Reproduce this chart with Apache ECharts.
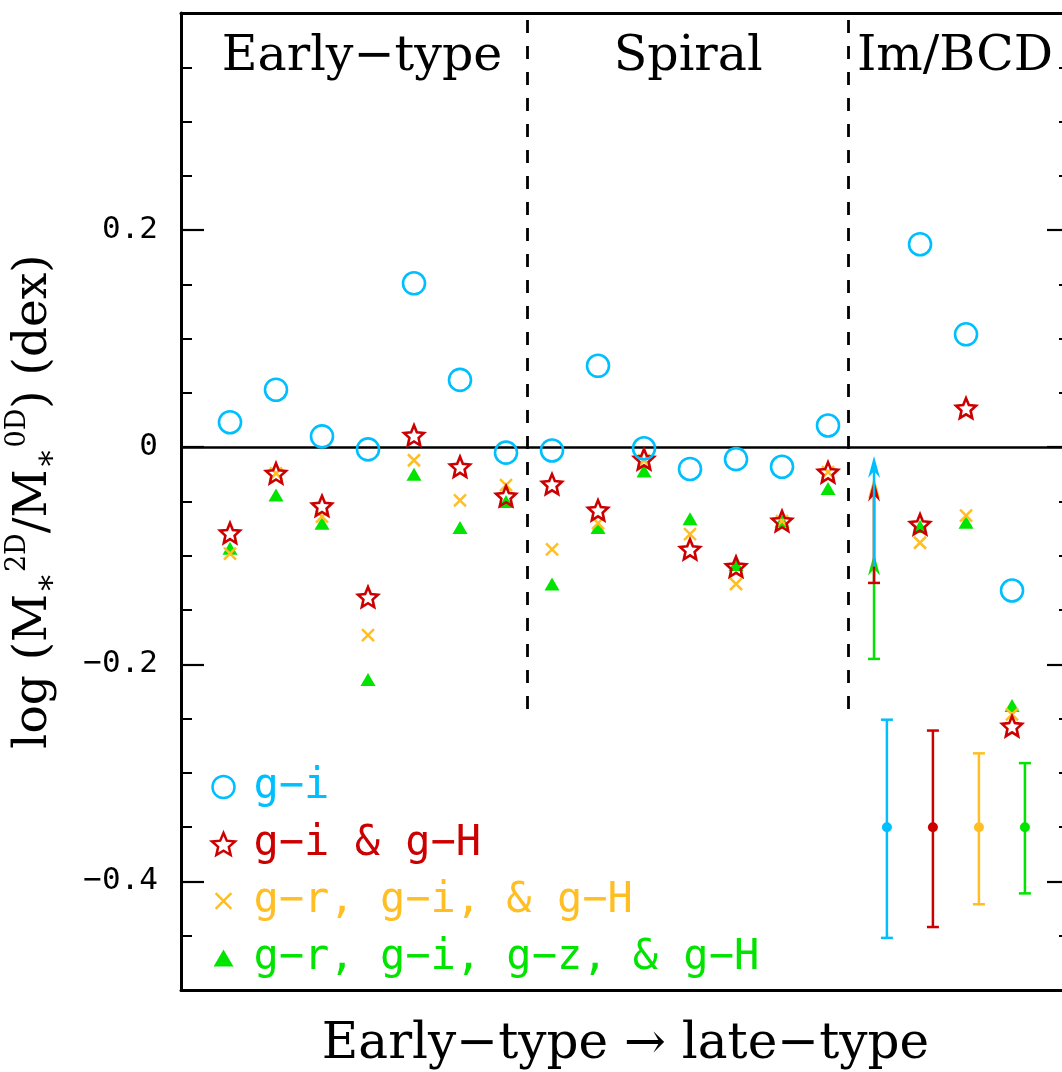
<!DOCTYPE html>
<html><head><meta charset="utf-8">
<script src="https://cdn.jsdelivr.net/npm/echarts@6/dist/echarts.min.js"></script>
<style>html,body{margin:0;padding:0;background:#fff}#c{width:1062px;height:1072px}</style>
</head><body><div id="c"></div>
<script>
// ---------------- data ----------------
const galaxyIndex = [1,2,3,4,5,6,7,8,9,10,11,12,13,14,15,16,17,18];
const seriesNames = ['g−i', 'g−i & g−H', 'g−r, g−i, & g−H', 'g−r, g−i, g−z, & g−H'];
const giValues     = [0.023, 0.053, 0.010, -0.002, 0.151, 0.062, -0.005, -0.003, 0.075, -0.001, -0.020, -0.011, -0.018, 0.020, null, 0.187, 0.104, -0.132];
const giHValues    = [-0.079, -0.024, -0.054, -0.138, 0.011, -0.018, -0.045, -0.034, -0.058, -0.011, -0.094, -0.110, -0.068, -0.023, null, -0.071, 0.036, -0.257];
const grgiHValues  = [-0.098, -0.024, -0.064, -0.173, -0.012, -0.049, -0.035, -0.094, -0.070, -0.012, -0.080, -0.126, -0.068, -0.023, null, -0.088, -0.063, -0.246];
const grgizHValues = [-0.093, -0.044, -0.070, -0.214, -0.025, -0.074, -0.050, -0.126, -0.074, -0.022, -0.066, -0.108, -0.068, -0.038, null, -0.073, -0.069, -0.238];
// lower-limit arrows of galaxy 15 (order: g-i, g-i&g-H, g-r/g-i/g-H, g-r/g-i/g-z/g-H)
const limitX = 15;
const limitLow  = [-0.110, -0.125, -0.115, -0.195];
const limitHigh = [-0.008, -0.030, -0.027, -0.098];
// typical error bars
const errX   = [15.28, 16.28, 17.28, 18.28];
const errMid = [-0.35, -0.35, -0.35, -0.35];
const errLo  = [-0.452, -0.442, -0.421, -0.411];
const errHi  = [-0.251, -0.261, -0.282, -0.291];
// sections
const sectionNames   = ['Early−type', 'Spiral', 'Im/BCD'];
const sectionCenters = [3.87, 10.96, 16.76];
const sectionLabelY  = 0.359;
const dividerX = [7.46, 14.43];
const dividerTop = 0.4, dividerBottom = -0.25;
const yTickLabels = [-0.4, -0.2, 0, 0.2];

// ---------------- style ----------------
const BLUE = '#00bfff', RED = '#cc0000', ORANGE = '#ffbf24', GREEN = '#00e400';
const colors = [BLUE, RED, ORANGE, GREEN];
const SERIF = 'DejaVu Serif', SANS = 'DejaVu Sans Mono';

function starPath() {
  let d = '';
  for (let i = 0; i < 10; i++) {
    const r = i % 2 === 0 ? 10 : 4.6;
    const a = -Math.PI / 2 + i * Math.PI / 5;
    const x = (10 + r * Math.cos(a)).toFixed(3), y = (10 + r * Math.sin(a)).toFixed(3);
    d += (i === 0 ? 'M' : 'L') + x + ',' + y;
  }
  return 'path://' + d + 'Z';
}
const STAR = starPath();
const CROSS = 'path://M0,0L10,10M10,0L0,10';
const CROSS_LEGEND = 'path://M-2,-2M0,0L10,10M10,0L0,10M12,12';
const TRI_LEGEND = 'path://M-0.5,-1.2M5,0L10,8.7L0,8.7ZM10.5,9.9';

const pairs = vals => galaxyIndex.map((x, i) => [x, vals[i]]).filter(p => p[1] !== null);

function fmtTick(v) {
  const r = Math.round(v * 100) / 100;
  if (!yTickLabels.some(t => Math.abs(t - r) < 1e-6)) return '';
  if (r === 0) return '0';
  return (r < 0 ? '−' : '') + Math.abs(r).toString();
}

const axisLineStyle = { show: true, onZero: false, lineStyle: { color: '#000', width: 3 } };
const noLine = { show: false, onZero: false };
const X_MIN = -0.065, X_MAX = 19.26, Y_MIN = -0.5, Y_MAX = 0.4;
const serifText = { fontFamily: SERIF, color: '#000' };

function arrowSeries(k) {
  return {
    type: 'custom', silent: true, z: 3 + (3 - k) * 0.1,
    data: [[limitX, limitLow[k], limitHigh[k]]],
    renderItem: function (params, api) {
      const p0 = api.coord([api.value(0), api.value(1)]);
      const p1 = api.coord([api.value(0), api.value(2)]);
      const c = colors[k];
      const headLen = 22, headW = 6;
      const children = [
        { type: 'line', shape: { x1: p0[0], y1: p0[1], x2: p1[0], y2: p1[1] + headLen * 0.6 }, style: { stroke: c, lineWidth: 2.5 } },
        { type: 'polygon', shape: { points: [[p1[0], p1[1]], [p1[0] - headW, p1[1] + headLen], [p1[0], p1[1] + headLen * 0.7], [p1[0] + headW, p1[1] + headLen]] }, style: { fill: c } }
      ];
      if (k === 1 || k === 3) {
        children.push({ type: 'line', shape: { x1: p0[0] - 6, y1: p0[1], x2: p0[0] + 6, y2: p0[1] }, style: { stroke: c, lineWidth: 2.5 } });
      }
      return { type: 'group', children: children };
    }
  };
}

const errorSeries = {
  type: 'custom', silent: true, z: 3,
  data: errX.map((x, i) => [x, errMid[i], errLo[i], errHi[i], i]),
  renderItem: function (params, api) {
    const x = api.value(0);
    const pm = api.coord([x, api.value(1)]);
    const pl = api.coord([x, api.value(2)]);
    const ph = api.coord([x, api.value(3)]);
    const c = colors[api.value(4)];
    const st = { stroke: c, lineWidth: 2.5 };
    return { type: 'group', children: [
      { type: 'line', shape: { x1: pl[0], y1: pl[1], x2: ph[0], y2: ph[1] }, style: st },
      { type: 'line', shape: { x1: pl[0] - 6, y1: pl[1], x2: pl[0] + 6, y2: pl[1] }, style: st },
      { type: 'line', shape: { x1: ph[0] - 6, y1: ph[1], x2: ph[0] + 6, y2: ph[1] }, style: st },
      { type: 'circle', shape: { cx: pm[0], cy: pm[1], r: 5 }, style: { fill: c } }
    ] };
  }
};

const sectionLabelSeries = {
  type: 'custom', silent: true, z: 2,
  data: sectionNames.map((n, i) => [sectionCenters[i], sectionLabelY, i]),
  renderItem: function (params, api) {
    const p = api.coord([api.value(0), api.value(1)]);
    return { type: 'text', x: p[0], y: p[1],
      style: { text: sectionNames[api.value(2)], fill: '#000', font: '49px "DejaVu Serif"', align: 'center', verticalAlign: 'middle' } };
  }
};

const gridBox = { left: 181, top: 13, right: -8, bottom: 82, containLabel: false, outerBoundsMode: 'none' };
const minorTick = { show: true, inside: true, length: 11, lineStyle: { color: '#000', width: 2 } };
const majorTick = { show: true, inside: true, length: 23, customValues: yTickLabels, lineStyle: { color: '#000', width: 2.2 } };

const option = {
  animation: false,
  backgroundColor: '#fff',
  grid: [Object.assign({}, gridBox), Object.assign({}, gridBox)],
  xAxis: [
    { gridIndex: 0, type: 'value', position: 'bottom', min: X_MIN, max: X_MAX, axisLine: axisLineStyle, axisTick: { show: false }, axisLabel: { show: false }, splitLine: { show: false },
      name: 'Early−type → late−type', nameLocation: 'middle', nameGap: 30,
      nameTextStyle: Object.assign({ fontSize: 50 }, serifText) },
    { gridIndex: 0, type: 'value', position: 'top', min: X_MIN, max: X_MAX, axisLine: axisLineStyle, axisTick: { show: false }, axisLabel: { show: false }, splitLine: { show: false } },
    { gridIndex: 1, type: 'value', show: false, min: X_MIN, max: X_MAX, axisLine: noLine }
  ],
  yAxis: [
    { gridIndex: 0, type: 'value', position: 'left', min: Y_MIN, max: Y_MAX, interval: 0.05, axisLine: axisLineStyle,
      axisTick: minorTick,
      axisLabel: { show: true, customValues: yTickLabels, formatter: fmtTick, margin: 23, fontFamily: SANS, fontSize: 31, color: '#000' },
      splitLine: { show: false },
      name: 'log ({b|M}{sub|∗}{sup|2D}{b|/M}{sub|∗}{sup|0D}) (dex)', nameLocation: 'middle', nameRotate: 90, nameGap: 117,
      nameTextStyle: Object.assign({ fontSize: 47, lineHeight: 60,
        rich: {
          b: Object.assign({ fontSize: 47, lineHeight: 60 }, serifText),
          sup: Object.assign({ fontSize: 27, verticalAlign: 'top', lineHeight: 60, padding: [0, 0, 16, 0] }, serifText),
          sub: Object.assign({ fontSize: 32, verticalAlign: 'bottom', lineHeight: 60, padding: [8, 0, 0, 0] }, serifText)
        } }, serifText) },
    { gridIndex: 0, type: 'value', position: 'right', min: Y_MIN, max: Y_MAX, interval: 0.05, axisLine: axisLineStyle,
      axisTick: minorTick, axisLabel: { show: false }, splitLine: { show: false } },
    { gridIndex: 1, type: 'value', position: 'left', min: Y_MIN, max: Y_MAX, interval: 0.05, axisLine: noLine,
      axisTick: majorTick, axisLabel: { show: false }, splitLine: { show: false } },
    { gridIndex: 1, type: 'value', position: 'right', min: Y_MIN, max: Y_MAX, interval: 0.05, axisLine: noLine,
      axisTick: majorTick, axisLabel: { show: false }, splitLine: { show: false } }
  ],
  legend: {
    orient: 'vertical', left: 205, top: 761, itemWidth: 50, itemHeight: 22, itemGap: 15,
    selectedMode: false, symbolKeepAspect: true,
    textStyle: { fontFamily: SANS, fontSize: 42 },
    data: [
      { name: seriesNames[0], icon: 'circle', itemStyle: { color: 'transparent', borderColor: BLUE, borderWidth: 2.5 }, textStyle: { color: BLUE } },
      { name: seriesNames[1], icon: STAR, itemStyle: { color: 'transparent', borderColor: RED, borderWidth: 2.5 }, textStyle: { color: RED } },
      { name: seriesNames[2], icon: CROSS_LEGEND, itemStyle: { color: 'none', borderColor: ORANGE, borderWidth: 2.5 }, textStyle: { color: ORANGE } },
      { name: seriesNames[3], icon: TRI_LEGEND, itemStyle: { color: GREEN, borderWidth: 0 }, textStyle: { color: GREEN } }
    ]
  },
  series: [
    // zero line
    { type: 'line', data: [], silent: true, z: 1,
      markLine: { silent: true, symbol: 'none', label: { show: false }, lineStyle: { color: '#000', width: 2.5, type: 'solid' },
        data: [{ yAxis: 0 }] } },
    // section dividers
    { type: 'line', data: [], silent: true, z: 1,
      markLine: { silent: true, symbol: 'none', label: { show: false }, lineStyle: { color: '#000', width: 2.8, type: [13, 13], dashOffset: -7 },
        data: dividerX.map(x => [{ coord: [x, dividerTop] }, { coord: [x, dividerBottom] }]) } },
    sectionLabelSeries,
    { name: seriesNames[3], type: 'scatter', z: 4, symbol: 'triangle', symbolSize: [15, 13], data: pairs(grgizHValues),
      itemStyle: { color: GREEN, opacity: 1 }, emphasis: { disabled: true } },
    { name: seriesNames[2], type: 'scatter', z: 5, symbol: CROSS, symbolSize: 12, data: pairs(grgiHValues),
      itemStyle: { color: 'none', borderColor: ORANGE, borderWidth: 2.5, opacity: 1 }, emphasis: { disabled: true } },
    { name: seriesNames[1], type: 'scatter', z: 6, symbol: STAR, symbolSize: 20, data: pairs(giHValues),
      itemStyle: { color: 'transparent', borderColor: RED, borderWidth: 2.6, opacity: 1 }, emphasis: { disabled: true } },
    { name: seriesNames[0], type: 'scatter', z: 7, symbol: 'circle', symbolSize: 22, data: pairs(giValues),
      itemStyle: { color: 'transparent', borderColor: BLUE, borderWidth: 2.6, opacity: 1 }, emphasis: { disabled: true } },
    arrowSeries(3), arrowSeries(2), arrowSeries(1), arrowSeries(0),
    errorSeries
  ]
};
const chart = echarts.init(document.getElementById('c'), null, { renderer: 'canvas' });
chart.setOption(option);
</script></body></html>
